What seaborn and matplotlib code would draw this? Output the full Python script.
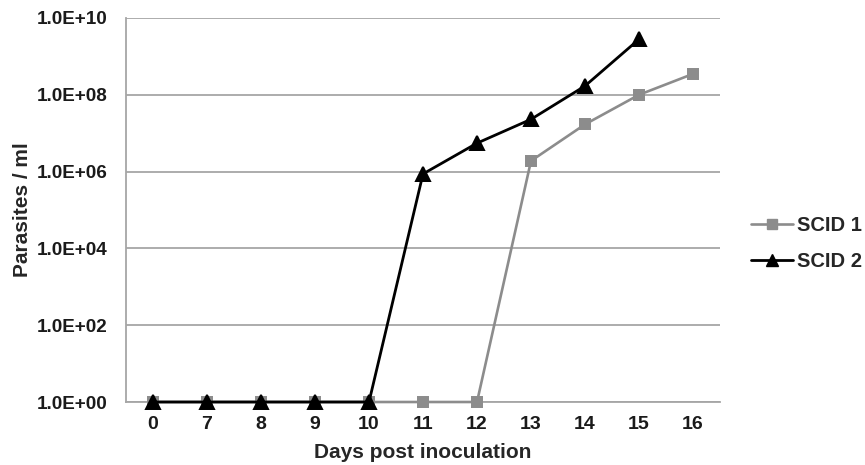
import matplotlib
matplotlib.use("Agg")
import matplotlib.pyplot as plt
from matplotlib.lines import Line2D
from matplotlib.ticker import FixedLocator, FixedFormatter
import seaborn as sns
import pandas as pd

days = ["0", "7", "8", "9", "10", "11", "12", "13", "14", "15", "16"]
scid1 = [1, 1, 1, 1, 1, 1, 1, 1.9e6, 1.7e7, 1.0e8, 3.5e8]
scid2 = [1, 1, 1, 1, 1, 8.7e5, 5.5e6, 2.3e7, 1.7e8, 2.8e9, None]
series_names = ["SCID 1", "SCID 2"]
y_ticks = [1e0, 1e2, 1e4, 1e6, 1e8, 1e10]
y_tick_labels = ["1.0E+00", "1.0E+02", "1.0E+04", "1.0E+06", "1.0E+08", "1.0E+10"]

rows = []
for d, v in zip(days, scid1):
    rows.append({"day": d, "value": v, "series": "SCID 1"})
for d, v in zip(days, scid2):
    if v is not None:
        rows.append({"day": d, "value": v, "series": "SCID 2"})
df = pd.DataFrame(rows)

sns.set_theme(style="white")
plt.rcParams["font.family"] = ["Liberation Sans", "DejaVu Sans"]
plt.rcParams["font.weight"] = "bold"

gray = "#8c8c8c"
colors = {"SCID 1": gray, "SCID 2": "black"}

fig = plt.figure(figsize=(8.65, 4.65), dpi=100)
ax = fig.add_axes([126 / 865, 1 - 402 / 465, (720 - 126) / 865, (402 - 18) / 465])
ax.set_yscale("log")

sns.pointplot(data=df, x="day", y="value", hue="series", order=days,
              hue_order=series_names, palette=colors, markers=["s", "^"],
              linestyles=["-", "-"], errorbar=None, ax=ax, legend=False,
              markersize=8, linewidth=1.9)

for ln in ax.lines:
    ln.set_clip_on(False)
    if ln.get_marker() == "^":
        ln.set_markersize(9.5)
        ln.set_linewidth(2.0)
        ln.set_zorder(4)
    elif ln.get_marker() == "s":
        ln.set_markersize(7.5)
        ln.set_zorder(3)
for coll in ax.collections:
    coll.set_clip_on(False)

ax.set_ylim(1, 1e10)
ax.set_xlim(-0.5, len(days) - 0.5)
ax.yaxis.set_major_locator(FixedLocator(y_ticks))
ax.yaxis.set_major_formatter(FixedFormatter(y_tick_labels))
ax.yaxis.set_minor_locator(FixedLocator([]))
ax.grid(axis="y", color="#a6a6a6", linewidth=1.3)
ax.grid(axis="x", visible=False)
ax.set_axisbelow(True)
for s in ["top", "right"]:
    ax.spines[s].set_visible(False)
for s in ["left", "bottom"]:
    ax.spines[s].set_color("#a6a6a6")
    ax.spines[s].set_linewidth(1.3)
ax.tick_params(axis="y", length=0, labelsize=13.6, pad=13)
ax.tick_params(axis="x", length=0, labelsize=14, pad=10)
for lab in ax.get_xticklabels() + ax.get_yticklabels():
    lab.set_fontweight("bold")
    lab.set_color("#1a1a1a")

ax.set_xlabel("Days post inoculation", fontsize=15, fontweight="bold", labelpad=7.5)
ax.set_ylabel("Parasites / ml", fontsize=15, fontweight="bold", labelpad=4)

handles = [
    Line2D([], [], color=gray, marker="s", markersize=7, linewidth=1.9),
    Line2D([], [], color="black", marker="^", markersize=8.5, linewidth=2.0),
]
fig.legend(handles, series_names, loc="upper left",
           bbox_to_anchor=(751 / 865, 1 - 216 / 465), bbox_transform=fig.transFigure,
           frameon=False, prop={"weight": "bold", "size": 14.5},
           handlelength=2.1, handletextpad=0.2, labelspacing=0.85, borderpad=0,
           borderaxespad=0)

fig.savefig("out.png", dpi=100)
